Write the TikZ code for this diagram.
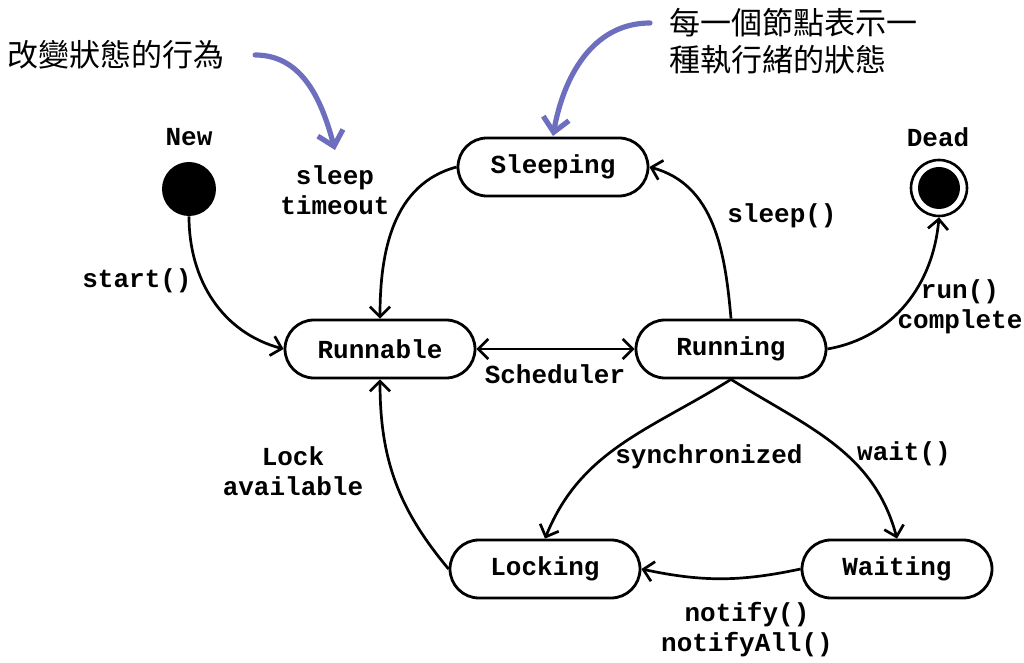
\documentclass[tikz,border=0pt]{standalone}
\usepackage{fontspec}
\setmonofont{Liberation Mono}
\newfontfamily\cjkfont{Noto Sans CJK TC}
\usetikzlibrary{arrows.meta,shapes.misc}

\begin{document}
\begin{tikzpicture}[x=0.5pt,y=-0.5pt,>={Straight Barb[length=5pt,width=10pt]},
    font=\ttfamily\bfseries\fontsize{13}{15}\selectfont,
    state/.style={rounded rectangle,draw,line width=1.4pt,minimum width=95pt,minimum height=29pt,inner sep=0pt},
    trans/.style={->,line width=1.35pt},
    note/.style={font=\cjkfont\fontsize{15.5}{18.5}\selectfont},
    hint/.style={->,line width=2.6pt,draw=hintblue,line cap=round,>={Straight Barb[length=7pt,width=13pt]}}]
                \definecolor{hintblue}{RGB}{110,110,190}
                \useasboundingbox (0,0) rectangle (1024,663);

                % states
                \node[state] (sleeping) at(553,167) {Sleeping};
                \node[state] (runnable) at(380,349) {Runnable};
                \node[state] (running) at(731,349) {Running};
                \node[state] (locking) at(545,569) {Locking};
                \node[state] (waiting) at(897,569) {Waiting};

                \node[circle,fill=black,minimum size=27pt,inner sep=0pt] (new) at(189,189) {};
                \node (newlabel) at(189,137) {New};
                \node[circle,draw,line width=1.3pt,minimum size=28pt,inner sep=0pt,
                    path picture={\fill (path picture bounding box.center) circle (10.5pt);}] (dead) at(939,188) {};
                \node (deadlabel) at(938,137) {Dead};

                % transitions
                \draw[trans] (new.south) to[out=-90,in=165] (runnable.west);
                \draw[trans] (sleeping.west) to[out=195,in=90] (runnable.north);
                \draw[trans] (running.north) to[out=95,in=-15] (sleeping.east);
                \draw[<->,line width=1.35pt] (runnable.east) -- (running.west);
                \draw[trans] (running.east) to[out=10,in=-95] (dead.south);
                \draw[trans] (running.south) to[out=-148,in=68] (locking.north);
                \draw[trans] (running.south) to[out=-32,in=105] (waiting.north);
                \draw[trans] (waiting.west) to[out=192,in=-12] (locking.east);
                \draw[trans] (locking.west) to[out=130,in=-90] (runnable.south);

                % labels
                \node[align=center] (lsleeptimeout) at(335,190) {sleep\\timeout};
                \node (lsleep) at(782,216) {sleep()};
                \node (lstart) at(137,281) {start()};
                \node[align=center] (lrun) at(960,307) {run()\\complete};
                \node (lsched) at(555,374) {Scheduler};
                \node[align=center] (llock) at(293,471) {Lock\\available};
                \node (lsync) at(709,457) {synchronized};
                \node (lwait) at(904,454) {wait()};
                \node[align=center] (lnotify) at(747,630) {notify()\\notifyAll()};

                % notes
                \node[note,anchor=west] (notechange) at(0,55) {改變狀態的行為};
                \node[note,anchor=west,align=left] (notestate) at(662,41) {每一個節點表示一\\種執行緒的狀態};
                \coordinate (hintone) at(335,150);
                \coordinate (hinttwo) at(553,136);
                \draw[hint] ([xshift=12pt]notechange.east) to[out=0,in=105] (hintone);
                \draw[hint] ([xshift=-6pt,yshift=9pt]notestate.west) to[out=180,in=80] (hinttwo);
            \end{tikzpicture}
\end{document}
